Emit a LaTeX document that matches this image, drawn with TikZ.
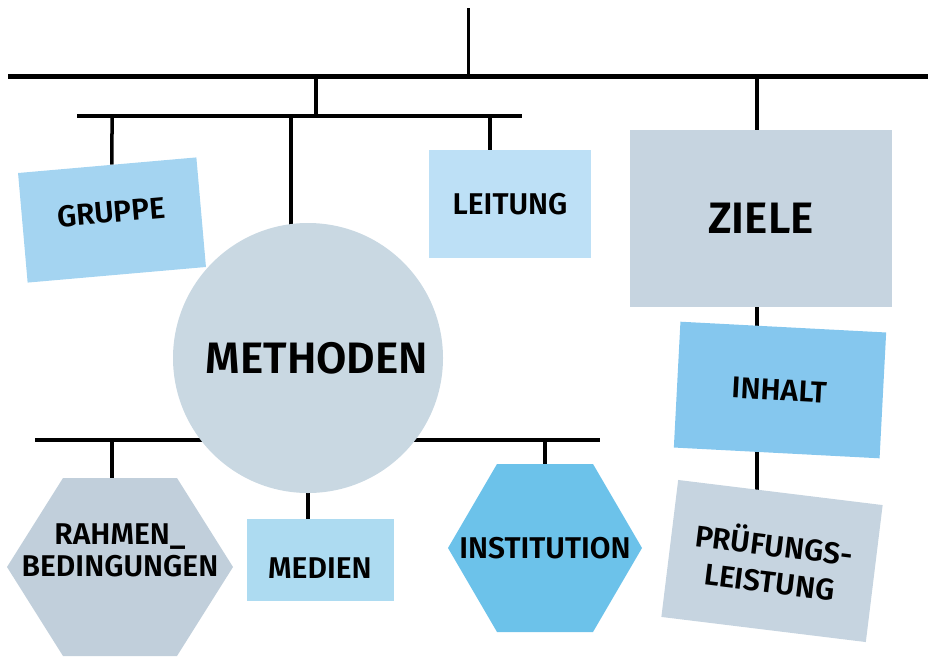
\documentclass[tikz,border=0pt]{standalone}
\usepackage{fontspec}
\setmainfont{Fira Sans}[BoldFont={Fira Sans SemiBold}]
\usetikzlibrary{shapes,backgrounds}

\definecolor{grau}{HTML}{C6D4E0}
\definecolor{graukreis}{HTML}{C9D8E2}
\definecolor{grauhex}{HTML}{C1CFDB}
\definecolor{hellblau}{HTML}{BDE0F6}
\definecolor{gruppeblau}{HTML}{A4D4F1}
\definecolor{medienblau}{HTML}{ADDBF1}
\definecolor{inhaltblau}{HTML}{85C7EE}
\definecolor{dunkelblau}{HTML}{6CC2EA}

\tikzset{
	kasten/.style={inner sep=0pt, align=center, font=\bfseries\fontsize{30}{32}\selectfont},
	gross/.style={font=\bfseries\fontsize{44}{46}\selectfont},
	balken/.style={line width=4pt},
	ast/.style={line width=3.5pt},
}

\begin{document}
\begin{tikzpicture}[x=1pt,y=-1pt]
\useasboundingbox (0,0) rectangle (928,656);

% Kaesten oben
\node[kasten, fill=gruppeblau, minimum width=179pt, minimum height=110pt, rotate=5, text height=21pt, text depth=16pt] (gruppe) at (112,220) {GRUPPE};
\node[kasten, fill=hellblau, minimum width=162pt, minimum height=108pt] (leitung) at (510,204) {LEITUNG};
\node[kasten, gross, fill=grau, minimum width=262pt, minimum height=177pt] (ziele) at (761,218) {ZIELE};
\node[circle, gross, fill=graukreis, minimum size=270pt, inner sep=0pt] (methoden) at (308,358) {\hspace*{18pt}METHODEN};

% rechte Spalte
\node[kasten, fill=inhaltblau, minimum width=206pt, minimum height=126pt, rotate=-3] (inhalt) at (780,390) {INHALT};
\node[kasten, fill=grau, minimum width=206pt, minimum height=138pt, rotate=-7, font=\bfseries\fontsize{30}{37}\selectfont] (pruefung) at (772,561) {PR\"UFUNGS-\\LEISTUNG};

% unten
\fill[grauhex] (7,567) -- (63,478) -- (177,478) -- (233,567) -- (177,656) -- (63,656) -- cycle;
\node[kasten] (rahmen) at (120,550) {RAHMEN\_\\BEDINGUNGEN};
\node[kasten, fill=medienblau, minimum width=147pt, minimum height=82pt, text height=37pt, text depth=0pt] (medien) at (320,560) {MEDIEN};
\fill[dunkelblau] (448,548) -- (497,464) -- (593,464) -- (642,548) -- (593,632) -- (497,632) -- cycle;
\node[kasten] (institution) at (545,548) {INSTITUTION};

\begin{scope}[on background layer]
	\coordinate (wurzel) at (468,8);
	\coordinate (a1) at (8,76);
	\coordinate (a2) at (928,76);
	\coordinate (b1) at (77,116);
	\coordinate (b2) at (522,116);
	\coordinate (c1) at (35,440);
	\coordinate (c2) at (600,440);
	\coordinate (knoten) at (316,116);
	\coordinate (m-stiel) at ([xshift=-17pt]methoden.center);
	\coordinate (l-stiel) at ([xshift=-20pt]leitung.center);
	\coordinate (z-stiel) at ([xshift=-4pt]ziele.center);
	\coordinate (r-stiel) at ([xshift=-8pt]rahmen.center);

	\draw[balken, line width=5pt] (a1) -- (a2);
	\draw[balken] (b1) -- (b2);
	\draw[balken] (c1) -- (c2);

	\draw[ast, line width=3pt] (wurzel) -- (wurzel |- a1);
	\draw[ast] (knoten) -- (knoten |- a1);
	\draw[ast] (gruppe) -- (gruppe |- b1);
	\draw[ast] (m-stiel) -- (m-stiel |- b1);
	\draw[ast] (l-stiel) -- (l-stiel |- b1);
	\draw[ast] (z-stiel |- a1) -- (z-stiel |- pruefung);
	\draw[ast] (r-stiel) -- (r-stiel |- c1);
	\draw[ast] (institution) -- (institution |- c2);
	\draw[ast] (methoden) -- (methoden |- medien);
\end{scope}
\end{tikzpicture}
\end{document}
